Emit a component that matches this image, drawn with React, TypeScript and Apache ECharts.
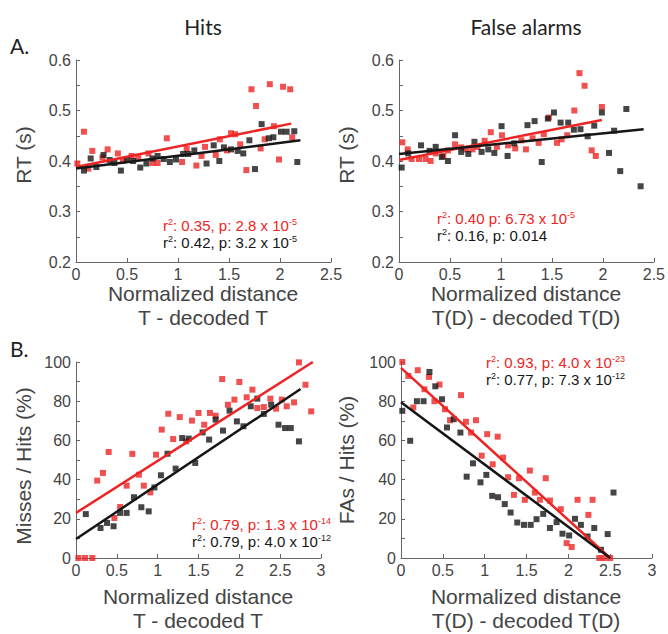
import React, { useEffect, useRef } from "react";
import * as echarts from "echarts";

// ---------- data ----------
// Panel A, Hits: RT (s) vs normalized distance
const hitsRtRed: number[][] = [
  [0.013, 0.395], [0.078, 0.458], [0.12, 0.385], [0.16, 0.42], [0.26, 0.407], [0.31, 0.423],
  [0.41, 0.415], [0.46, 0.4], [0.545, 0.41], [0.61, 0.407], [0.71, 0.415], [0.75, 0.396],
  [0.8, 0.396], [0.89, 0.445], [1.04, 0.398], [1.085, 0.424], [1.18, 0.391], [1.23, 0.41],
  [1.265, 0.428], [1.37, 0.412], [1.41, 0.443], [1.48, 0.421], [1.52, 0.455], [1.56, 0.453],
  [1.61, 0.433], [1.67, 0.382], [1.72, 0.542], [1.765, 0.509], [1.81, 0.425], [1.85, 0.443],
  [1.9, 0.552], [1.94, 0.469], [1.99, 0.403], [2.03, 0.547], [2.1, 0.542], [2.12, 0.447],
];
const hitsRtBlack: number[][] = [
  [0.078, 0.381], [0.144, 0.405], [0.2, 0.388], [0.27, 0.412], [0.33, 0.402], [0.376, 0.396],
  [0.44, 0.381], [0.5, 0.402], [0.56, 0.4], [0.63, 0.387], [0.69, 0.395], [0.75, 0.405],
  [0.8, 0.41], [0.86, 0.404], [0.92, 0.398], [0.98, 0.403], [1.05, 0.414], [1.1, 0.414],
  [1.16, 0.421], [1.28, 0.395], [1.35, 0.431], [1.405, 0.4], [1.45, 0.427], [1.52, 0.423],
  [1.585, 0.42], [1.64, 0.415], [1.7, 0.441], [1.755, 0.384], [1.82, 0.473], [1.89, 0.445],
  [1.935, 0.447], [2.01, 0.458], [2.065, 0.458], [2.14, 0.459], [2.17, 0.398],
];
const hitsRtRedFit: number[][] = [[0, 0.388], [2.11, 0.474]];
const hitsRtBlackFit: number[][] = [[0, 0.385], [2.2, 0.441]];

// Panel A, False alarms: RT (s)
const faRtRed: number[][] = [
  [0.033, 0.437], [0.085, 0.423], [0.124, 0.404], [0.196, 0.404], [0.26, 0.404], [0.31, 0.4],
  [0.36, 0.415], [0.435, 0.41], [0.48, 0.421], [0.55, 0.433], [0.61, 0.427], [0.66, 0.423],
  [0.72, 0.423], [0.77, 0.428], [0.84, 0.44], [0.9, 0.457], [0.96, 0.428], [1.01, 0.451],
  [1.07, 0.431], [1.14, 0.425], [1.2, 0.441], [1.245, 0.423], [1.31, 0.445], [1.37, 0.436],
  [1.42, 0.453], [1.47, 0.486], [1.55, 0.436], [1.595, 0.443], [1.65, 0.451], [1.72, 0.5],
  [1.77, 0.574], [1.82, 0.549], [1.89, 0.421], [1.93, 0.41], [1.99, 0.507],
];
const faRtBlack: number[][] = [
  [0.026, 0.387], [0.09, 0.415], [0.216, 0.431], [0.3, 0.42], [0.36, 0.428], [0.42, 0.408],
  [0.48, 0.4], [0.55, 0.451], [0.61, 0.418], [0.68, 0.414], [0.74, 0.438], [0.81, 0.418],
  [0.876, 0.423], [0.935, 0.416], [1.006, 0.469], [1.065, 0.41], [1.13, 0.435], [1.26, 0.471],
  [1.33, 0.479], [1.4, 0.398], [1.46, 0.484], [1.52, 0.496], [1.585, 0.476], [1.66, 0.476],
  [1.715, 0.462], [1.78, 0.463], [1.85, 0.449], [1.915, 0.47], [1.99, 0.496], [2.06, 0.416],
  [2.11, 0.46], [2.17, 0.38], [2.23, 0.503], [2.37, 0.35],
];
const faRtRedFit: number[][] = [[0, 0.402], [1.99, 0.481]];
const faRtBlackFit: number[][] = [[0, 0.414], [2.4, 0.463]];

// Panel B, Hits: Misses / Hits (%)
const hitsPctRed: number[][] = [
  [0.03, 0], [0.11, 0], [0.2, 0], [0.26, 39.5], [0.33, 43.4], [0.4, 54.1], [0.47, 20.4],
  [0.54, 26], [0.62, 36.9], [0.69, 53.1], [0.77, 42.5], [0.83, 36.9], [0.91, 33.5],
  [0.98, 52.7], [1.05, 65.5], [1.13, 73.6], [1.19, 60.7], [1.27, 71.9], [1.35, 59.5],
  [1.42, 70.1], [1.5, 74], [1.57, 68], [1.64, 74], [1.71, 72.6], [1.79, 91.3], [1.86, 78.2],
  [1.94, 80.8], [2.0, 89.8], [2.09, 82], [2.16, 85.9], [2.22, 76.5], [2.3, 77], [2.38, 81.3],
  [2.45, 76.2], [2.52, 80.8], [2.58, 77.4], [2.67, 79.4], [2.73, 99.8], [2.81, 88.4], [2.88, 74.8],
];
const hitsPctBlack: number[][] = [
  [0.12, 22.4], [0.3, 15.3], [0.38, 17.9], [0.46, 16.2], [0.54, 23], [0.62, 23], [0.71, 31],
  [0.8, 25.9], [0.89, 23.8], [0.96, 36], [1.04, 42.2], [1.12, 53.2], [1.22, 45.6], [1.3, 61.2],
  [1.38, 60.9], [1.46, 48.5], [1.55, 64.1], [1.63, 60.4], [1.71, 70.6], [1.8, 65], [1.88, 75.2],
  [1.97, 69.7], [2.05, 67.2], [2.14, 77.4], [2.22, 81.3], [2.3, 73.5], [2.39, 78.2], [2.48, 68],
  [2.56, 66.3], [2.63, 66.3], [2.73, 59.5],
];
const hitsPctRedFit: number[][] = [[0, 23], [2.9, 100]];
const hitsPctBlackFit: number[][] = [[0, 9.7], [2.75, 86.2]];

// Panel B, False alarms: FAs / Hits (%)
const faPctRed: number[][] = [
  [0.016, 100], [0.088, 92.9], [0.147, 76.8], [0.2, 95.8], [0.28, 86.1], [0.335, 92.4],
  [0.4, 80], [0.46, 88.5], [0.526, 75.9], [0.586, 70.3], [0.717, 83.1], [0.777, 69.5],
  [0.837, 64], [0.896, 70.3], [0.964, 52.2], [1.03, 63.2], [1.096, 47.8], [1.155, 61.9],
  [1.22, 51.2], [1.28, 41.2], [1.35, 32.2], [1.41, 40.7], [1.48, 29.7], [1.54, 44.6],
  [1.6, 33.4], [1.66, 29.7], [1.73, 40.7], [1.78, 29.3], [1.91, 24.9], [1.98, 7.6],
  [2.04, 5.6], [2.11, 29.7], [2.24, 22], [2.29, 29.7], [2.37, 0], [2.43, 0], [2.5, 0],
];
const faPctBlack: number[][] = [
  [0.016, 75.1], [0.11, 59.8], [0.19, 80], [0.27, 80], [0.34, 94.9], [0.41, 87.6], [0.49, 81],
  [0.55, 66.6], [0.63, 70.8], [0.71, 64], [0.785, 41.5], [0.86, 48.3], [0.95, 38.6], [1.02, 42.4],
  [1.09, 31.7], [1.16, 31], [1.24, 27.5], [1.31, 23.2], [1.39, 18.1], [1.47, 16.9], [1.55, 16.9],
  [1.62, 19.8], [1.7, 22.5], [1.78, 15.3], [1.86, 18.3], [1.93, 12.4], [2.01, 11.5], [2.08, 20],
  [2.15, 16.9], [2.23, 11], [2.31, 15.3], [2.39, 4.2], [2.47, 12.2], [2.54, 33.4],
];
const faPctRedFit: number[][] = [[0, 97], [2.5, 0]];
const faPctBlackFit: number[][] = [[0, 79.5], [2.5, 0]];

const topXMax = 2.5;
const bottomXMax = 3;

// ---------- style ----------
const RED = "#ee2424";
const BLK = "#161616";
const AXIS = "#666";
const LABEL = "#444";
const SANS = "Liberation Sans, Arial, Helvetica, sans-serif";
const TITLE_FONT = "Lato, Noto Sans, sans-serif";

const grids = [
  { left: 76, top: 60, width: 255, height: 202 },
  { left: 399, top: 60, width: 255, height: 202 },
  { left: 76, top: 362, width: 245, height: 196 },
  { left: 401, top: 362, width: 251, height: 196 },
];

function xAxis(gridIndex: number, max: number) {
  return {
    type: "value",
    gridIndex,
    min: 0,
    max,
    interval: 0.5,
    axisLine: { show: true, onZero: false, lineStyle: { color: AXIS, width: 1 } },
    axisTick: { show: true, inside: true, length: 4, lineStyle: { color: AXIS } },
    axisLabel: { color: LABEL, fontSize: 16, fontFamily: SANS, margin: 4 },
    splitLine: { show: false },
  };
}

function yAxisRT(gridIndex: number) {
  return {
    type: "value",
    gridIndex,
    min: 0.2,
    max: 0.6,
    interval: 0.05,
    axisLine: { show: true, onZero: false, lineStyle: { color: AXIS, width: 1 } },
    axisTick: { show: true, inside: true, length: 4, lineStyle: { color: AXIS } },
    axisLabel: {
      color: LABEL,
      fontSize: 16,
      fontFamily: SANS,
      margin: 5,
      formatter: (v: number) => (Math.round(v * 100) % 10 === 0 ? v.toFixed(1) : ""),
    },
    splitLine: { show: false },
  };
}

function yAxisPct(gridIndex: number) {
  return {
    type: "value",
    gridIndex,
    min: 0,
    max: 100,
    interval: 10,
    axisLine: { show: true, onZero: false, lineStyle: { color: AXIS, width: 1 } },
    axisTick: { show: true, inside: true, length: 4, lineStyle: { color: AXIS } },
    axisLabel: {
      color: LABEL,
      fontSize: 16,
      fontFamily: SANS,
      margin: 5,
      formatter: (v: number) => (Math.round(v) % 20 === 0 ? String(Math.round(v)) : ""),
    },
    splitLine: { show: false },
  };
}

function scatter(idx: number, data: number[][], color: string) {
  return {
    type: "scatter",
    xAxisIndex: idx,
    yAxisIndex: idx,
    data,
    symbol: "rect",
    symbolSize: 6,
    itemStyle: { color },
    z: 2,
  };
}

function fit(idx: number, data: number[][], color: string) {
  return {
    type: "line",
    xAxisIndex: idx,
    yAxisIndex: idx,
    data,
    symbol: "none",
    lineStyle: { color, width: 2.5 },
    z: 3,
  };
}

const supRich = (color: string) => ({
  n: { fontSize: 15, fontFamily: SANS, fill: color, lineHeight: 15 },
  s: { fontSize: 9, fontFamily: SANS, fill: color, verticalAlign: "top", lineHeight: 15 },
});

function statText(x: number, y: number, text: string, color: string) {
  return {
    type: "text",
    x,
    y,
    style: {
      text,
      fill: color,
      rich: supRich(color),
      align: "left",
      verticalAlign: "middle",
    },
    z: 10,
  };
}

function plainText(x: number, y: number, text: string, size: number, opts: any = {}) {
  return {
    type: "text",
    x,
    y,
    rotation: opts.rotation || 0,
    style: {
      text,
      fontSize: size,
      fontFamily: opts.font || SANS,
      fill: opts.color || LABEL,
      align: opts.align || "center",
      verticalAlign: "middle",
    },
    z: 10,
  };
}

export default function App() {
  const ref = useRef<HTMLDivElement>(null);
  useEffect(() => {
    if (!ref.current) return;
    const chart = echarts.init(ref.current, null, { renderer: "svg" });
    chart.setOption({
      animation: false,
      backgroundColor: "#fff",
      grid: grids,
      xAxis: [xAxis(0, topXMax), xAxis(1, topXMax), xAxis(2, bottomXMax), xAxis(3, bottomXMax)],
      yAxis: [yAxisRT(0), yAxisRT(1), yAxisPct(2), yAxisPct(3)],
      series: [
        scatter(0, hitsRtRed, RED),
        scatter(0, hitsRtBlack, BLK),
        fit(0, hitsRtRedFit, RED),
        fit(0, hitsRtBlackFit, BLK),
        scatter(1, faRtRed, RED),
        scatter(1, faRtBlack, BLK),
        fit(1, faRtRedFit, RED),
        fit(1, faRtBlackFit, BLK),
        scatter(2, hitsPctRed, RED),
        scatter(2, hitsPctBlack, BLK),
        fit(2, hitsPctRedFit, RED),
        fit(2, hitsPctBlackFit, BLK),
        scatter(3, faPctRed, RED),
        scatter(3, faPctBlack, BLK),
        fit(3, faPctRedFit, RED),
        fit(3, faPctBlackFit, BLK),
      ],
      graphic: [
        plainText(203, 26, "Hits", 21, { font: TITLE_FONT, color: "#222" }),
        plainText(526, 26, "False alarms", 21, { font: TITLE_FONT, color: "#222" }),
        plainText(10, 45, "A.", 21, { font: TITLE_FONT, color: "#222", align: "left" }),
        plainText(10, 348, "B.", 21, { font: TITLE_FONT, color: "#222", align: "left" }),
        plainText(23, 155, "RT (s)", 21, { rotation: Math.PI / 2 }),
        plainText(346, 155, "RT (s)", 21, { rotation: Math.PI / 2 }),
        plainText(23, 466, "Misses / Hits (%)", 21, { rotation: Math.PI / 2 }),
        plainText(346, 460, "FAs / Hits (%)", 21, { rotation: Math.PI / 2 }),
        plainText(203, 293, "Normalized distance", 21),
        plainText(203, 317, "T - decoded T", 21),
        plainText(526, 293, "Normalized distance", 21),
        plainText(526, 317, "T(D) - decoded T(D)", 21),
        plainText(198, 596, "Normalized distance", 21),
        plainText(198, 620, "T - decoded T", 21),
        plainText(526, 596, "Normalized distance", 21),
        plainText(526, 620, "T(D) - decoded T(D)", 21),
        statText(163, 225, "{n|r}{s|2}{n|: 0.35, p: 2.8 x 10}{s|-5}", RED),
        statText(163, 242, "{n|r}{s|2}{n|: 0.42, p: 3.2 x 10}{s|-5}", BLK),
        statText(437, 218, "{n|r}{s|2}{n|: 0.40 p: 6.73 x 10}{s|-5}", RED),
        statText(437, 235, "{n|r}{s|2}{n|: 0.16, p: 0.014}", BLK),
        statText(192, 524, "{n|r}{s|2}{n|: 0.79, p: 1.3 x 10}{s|-14}", RED),
        statText(192, 541, "{n|r}{s|2}{n|: 0.79, p: 4.0 x 10}{s|-12}", BLK),
        statText(486, 362, "{n|r}{s|2}{n|: 0.93, p: 4.0 x 10}{s|-23}", RED),
        statText(486, 379, "{n|r}{s|2}{n|: 0.77, p: 7.3 x 10}{s|-12}", BLK),
      ],
    });
    return () => chart.dispose();
  }, []);
  return (
    <div
      ref={ref}
      style={{ position: "absolute", left: 0, top: 0, width: 668, height: 634 }}
    />
  );
}
